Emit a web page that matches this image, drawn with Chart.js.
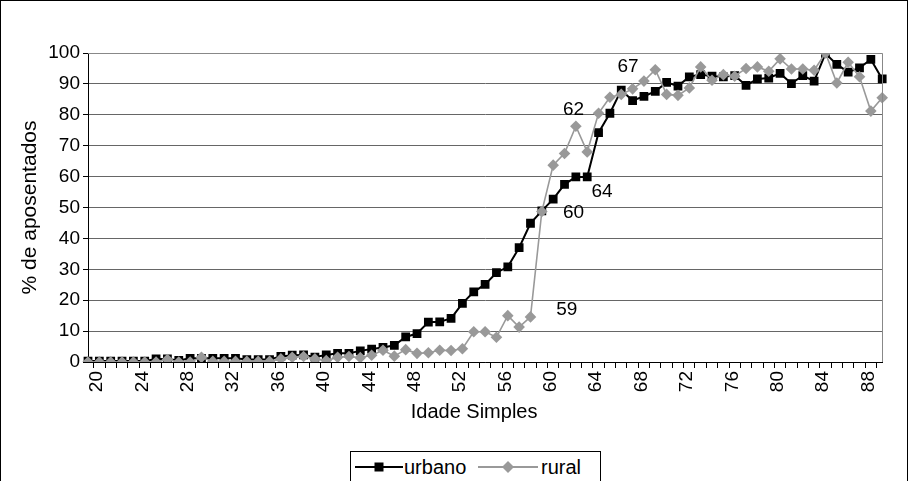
<!DOCTYPE html>
<html><head><meta charset="utf-8">
<script src="https://cdn.jsdelivr.net/npm/chart.js@4/dist/chart.umd.min.js"></script>
<style>
html,body{margin:0;padding:0;background:#fff;}
#wrap{position:relative;width:908px;height:481px;overflow:hidden;background:#fff;}
#frame{position:absolute;left:0;top:0;width:906px;height:540px;border:1px solid #000;}
canvas{position:absolute;left:0;top:0;}
#legend{position:absolute;left:350px;top:451px;width:249px;height:60px;border:1px solid #000;background:#fff;
  font-family:'Liberation Sans',Arial,sans-serif;font-size:20px;color:#000;}
#legend .item{position:absolute;top:3px;display:flex;align-items:center;height:24px;}
#legend svg{display:block;}
</style></head><body>
<div id="wrap">
<div id="frame"></div>
<canvas id="c" width="908" height="481"></canvas>
<div id="legend">
  <div class="item" style="left:4px"><svg width="48" height="14"><line x1="0" y1="7" x2="48" y2="7" stroke="#000" stroke-width="2"/><rect x="19.5" y="2.5" width="9" height="9" fill="#000"/></svg><span style="margin-left:1px">urbano</span></div>
  <div class="item" style="left:127px"><svg width="60" height="14"><line x1="0" y1="7" x2="60" y2="7" stroke="#999" stroke-width="2"/><polygon points="30,1 36,7 30,13 24,7" fill="#999"/></svg><span style="margin-left:3px">rural</span></div>
</div>
</div>
<script>
const ages = [];
for (let a = 20; a <= 90; a++) ages.push(String(a));

const urbano = [
  0.3,0.3,0.3,0.3,0.3,0.3,1.0,1.0,0.5,1.2,   // 20-29
  1.2,1.2,1.2,1.2,0.8,0.8,0.8,1.8,2.2,2.3,   // 30-39
  1.6,2.3,2.8,2.8,3.6,4.2,4.7,5.4,8.1,9.2,   // 40-49
  12.9,13.0,14.1,19.0,22.7,25.1,28.9,30.8,37.0,44.9, // 50-59
  48.9,52.7,57.5,59.9,59.9,74.2,80.5,88.0,84.6,86.0, // 60-69
  87.6,90.5,89.3,92.3,93.0,92.5,92.3,92.7,89.5,91.6, // 70-79
  91.9,93.4,90.1,92.7,90.9,99.8,96.3,93.8,95.2,97.9, // 80-89
  91.6                                                // 90
];
const rural = [
  0,0,0,0,0,0,0,0.8,0,0,                     // 20-29
  1.5,0.2,0.2,0.2,0.2,0.2,0.2,1.0,1.5,1.8,   // 30-39
  1.0,0.5,1.5,1.8,1.4,2.2,3.8,1.9,4.0,2.8,   // 40-49
  3.0,3.8,3.7,4.3,9.8,9.8,8.0,15.0,11.3,14.6, // 50-59
  48.7,63.7,67.5,76.3,68.0,80.5,85.7,86.6,88.4,90.9, // 60-69
  94.6,86.6,86.3,88.7,95.5,91.2,93.0,92.5,95.0,95.5, // 70-79
  94.1,98.1,94.8,94.8,94.4,100,90.3,97.0,92.3,81.2,  // 80-89
  85.5                                               // 90
];
const yTicks = [0,10,20,30,40,50,60,70,80,90,100];

// Annotations: text and anchor in data units (age, %)
const annotText = ['67','62','64','60','59'];
const annotAge  = [67.6, 62.8, 65.3, 62.8, 62.2];
const annotPct  = [95.6, 81.5, 55.2, 48.4, 16.8];

const FAM = "'Liberation Sans', Arial, sans-serif";
const TICKFONT = {family:FAM, size:19};

const areaBorder = {
  id:'areaBorder',
  afterDraw(chart){
    const {ctx, chartArea:a} = chart;
    ctx.save();
    ctx.strokeStyle = '#888';
    ctx.lineWidth = 1;
    ctx.beginPath();
    ctx.moveTo(a.left, a.top + 0.5);
    ctx.lineTo(Math.round(a.right) + 0.5, a.top + 0.5);
    ctx.lineTo(Math.round(a.right) + 0.5, a.bottom);
    ctx.stroke();
    ctx.restore();
  }
};
const texts = {
  id:'texts',
  afterDraw(chart){
    const {ctx, scales:{x, y}, chartArea:a} = chart;
    ctx.save();
    ctx.fillStyle = '#000';
    ctx.textAlign = 'center';
    ctx.textBaseline = 'middle';
    ctx.font = '19px ' + FAM;
    annotText.forEach((t, i) => {
      ctx.fillText(t, x.getPixelForValue(annotAge[i] - 20), y.getPixelForValue(annotPct[i]));
    });
    // x axis title, slightly left of plot centre as in the original
    ctx.font = '20px ' + FAM;
    ctx.fillText('Idade Simples', (a.left + a.right) / 2 - 11, x.bottom - 12);
    ctx.restore();
  }
};

new Chart(document.getElementById('c'), {
  type:'line',
  data:{
    labels:ages,
    datasets:[
      {label:'urbano', data:urbano, borderColor:'#000', backgroundColor:'#000', borderWidth:2,
       pointStyle:'rect', pointRadius:6.2, pointBorderWidth:0, pointBackgroundColor:'#000', tension:0, order:1},
      {label:'rural', data:rural, borderColor:'#999', backgroundColor:'#999', borderWidth:1.6,
       pointStyle:'rectRot', pointRadius:5.8, pointBorderWidth:0, pointBackgroundColor:'#999', tension:0, order:0}
    ]
  },
  options:{
    responsive:false, animation:false, devicePixelRatio:1,
    layout:{padding:{left:0, top:53, right:25, bottom:57}},
    plugins:{legend:{display:false}, tooltip:{enabled:false}},
    scales:{
      x:{
        offset:false,
        grid:{display:true, offset:true, drawOnChartArea:false, drawTicks:true, tickLength:6, color:'#000'},
        border:{color:'#000', width:1},
        ticks:{autoSkip:false, maxRotation:90, minRotation:90, padding:3, labelOffset:9, color:'#000', font:TICKFONT,
          callback:function(v, i){ const a = Number(ages[i]); return a % 4 === 0 ? ages[i] : ''; }},
        afterFit(s){ s.height = 62; }
      },
      y:{
        min:0, max:100,
        afterBuildTicks(s){ s.ticks = yTicks.map(v => ({value:v})); },
        ticks:{color:'#000', font:TICKFONT, padding:3},
        grid:{color:'#666', tickLength:5, tickColor:'#000'},
        border:{color:'#000'},
        title:{display:true, text:'% de aposentados', color:'#000', font:{family:FAM, size:21}, padding:{top:18,bottom:0}},
        afterFit(s){ s.width = 88; }
      }
    }
  },
  plugins:[areaBorder, texts]
});
</script>
</body></html>
